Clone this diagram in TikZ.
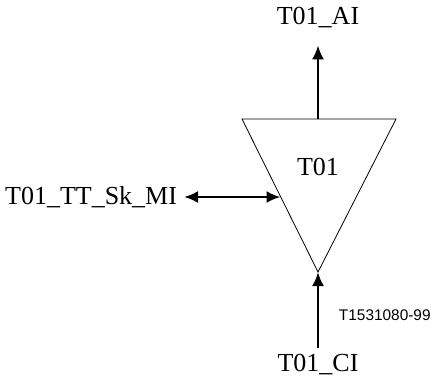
\documentclass[tikz,border=0pt]{standalone}
\usepackage{fontspec}
\setmainfont{Liberation Serif}
\setsansfont{Liberation Sans}
\usetikzlibrary{arrows.meta}
\begin{document}
\begin{tikzpicture}[x=0.5pt, y=-0.5pt, >={Latex[length=7pt,width=6pt]},
    font=\fontsize{13}{15}\selectfont]
  \tikzset{sig/.style={line width=1.2pt}, lbl/.style={inner sep=3.3pt}}
  \useasboundingbox (0,0) rectangle (431,381);
  % transport function
  \coordinate (tl) at (242,119);
  \coordinate (tr) at (396,119);
  \coordinate (tb) at (318,272);
  \draw[line width=0.4pt] (tl) -- (tr) -- (tb) -- cycle;
  \node (t) at (318,167) {T01};
  % points on the triangle
  \coordinate (ttop) at (318,119);
  \coordinate (tleft) at (280.5,197);
  % labels
  \node[lbl] (ai) at (318,18) {T01\_AI};
  \node[lbl] (ci) at (318,365) {T01\_CI};
  \node[lbl, anchor=east] (mi) at (184,197) {T01\_TT\_Sk\_MI};
  \node[inner sep=0, anchor=east, font=\sffamily\fontsize{7.7}{9}\selectfont] (fig) at (431,315) {T1531080-99};
  % connections
  \draw[sig, ->, shorten >=5pt] (ttop) -- (ai.south);
  \draw[sig, ->] (ci.north) -- (tb);
  \draw[sig, <->] (mi.east) -- (tleft);
\end{tikzpicture}
\end{document}
